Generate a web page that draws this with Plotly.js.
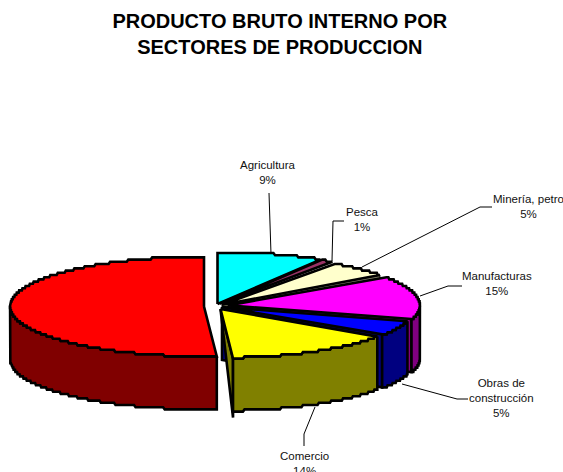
<!DOCTYPE html>
<html><head><meta charset="utf-8">
<script src="https://cdn.plot.ly/plotly-3.0.1.min.js"></script>
<style>html,body{margin:0;padding:0;background:#fff;overflow:hidden}</style>
</head><body><div id="chart" style="width:563px;height:472px"></div>
<script>
// Data
const categories = ["Agricultura","Pesca","Minería, petro","Manufacturas","Obras de<br>construcción","Comercio","Otros"];
const values = [8.5,1.1,5.3,14.8,4.8,14.4,51];
const topColors = ["#00FFFF","#993366","#FFFFCC","#FF00FF","#0000FF","#FFFF00","#FF0000"];
const sideColors = ["#007F7F","#4C1933","#8A8A70","#800080","#000080","#808000","#800000"];

// Drawing geometry (pie in 3D projection)
const W=563,H=472, cx=217.5, cy=305, rx=202, ry=52, depth=53, step=2.2;
const offsetX=[0,2.5,4.5,10.5,4.5,3,-13.5];
const offsetY=[-1,-1.2,-0.2,0.4,2,4,1.5];
const radiusScale=[1,0.98,0.97,0.95,0.96,0.94,0.96];
const labelPos=[[268,172],[362,219],[528,206],[497,283],[501,398],[304,463]];
const showLabel=[true,true,true,true,true,true,false];
const cutWall=[false,false,true,true,true,false,false];
const leaders=[
 [[269,193],[271,254]],
 [[344,221],[333,221],[332,261]],
 [[492,207],[480,207],[362,267]],
 [[462,286],[448,286],[420,296]],
 [[468,399],[457,399],[402,384]],
 [[304,446],[304,434],[315,407]]
];

const total=values.reduce((a,b)=>a+b,0);
const traces=[];
function poly(pts,color,lw){
  traces.push({type:"scatter",mode:"lines",x:pts.map(p=>p[0]),y:pts.map(p=>p[1]),
    fill:"toself",fillcolor:color,line:{color:"#000",width:lw===undefined?2.6:lw,shape:"linear"},
    hoverinfo:"skip",showlegend:false});
}
let acc=0;
const slices=values.map((v,i)=>{const s=acc/total*360;acc+=v;return {i,s,e:acc/total*360};});
slices.forEach(sl=>{
  const i=sl.i, rad=d=>d*Math.PI/180;
  const ox=cx+offsetX[i], oy=cy+offsetY[i];
  const a=rx*radiusScale[i], b=ry*radiusScale[i];
  const P=d=>[ox+a*Math.sin(rad(d)), Math.round((oy-b*Math.cos(rad(d)))/step)*step];
  const arc=(d0,d1)=>{const n=Math.max(2,Math.round(Math.abs(d1-d0)*2)),o=[];
    for(let k=0;k<=n;k++)o.push(P(d0+(d1-d0)*k/n));return o;};
  const apex=[ox,oy];
  const down=(p,d)=>[p[0],p[1]+d];
  if(cutWall[i]){
    const pe=P(sl.e);
    poly([pe,down(pe,depth),down(apex,depth),apex],sideColors[i],i===2?1:2.6);
  }
  if(i===5){
    const pe=P(sl.e);
    poly([apex,pe,down(pe,depth+6),apex],sideColors[i]);
  }
  const w0=Math.max(sl.s,90), w1=Math.min(sl.e,270);
  if(w1>w0){
    const top=arc(w0,w1), bot=top.map(p=>down(p,depth)).reverse();
    poly(top.concat(bot,[top[0]]),sideColors[i]);
  }
  poly([apex].concat(arc(sl.s,sl.e),[apex]),topColors[i]);
});

const annotations=[];
categories.forEach((c,i)=>{
  if(!showLabel[i])return;
  annotations.push({x:labelPos[i][0],y:labelPos[i][1],xref:"x",yref:"y",text:c+"<br>"+Math.round(values[i])+"%",
    showarrow:false,xanchor:"center",yanchor:"middle",align:"center",
    font:{family:"Liberation Sans, Arial, sans-serif",size:11.5,color:"#111"}});
});
const shapes=leaders.map(l=>({type:"path",xref:"x",yref:"y",
  path:"M"+l.map(p=>p[0]+","+p[1]).join(" L"),line:{color:"#000",width:1}}));

Plotly.newPlot("chart",traces,{
  width:W,height:H,margin:{l:0,r:0,t:0,b:0},paper_bgcolor:"#fff",plot_bgcolor:"#fff",showlegend:false,
  title:{text:"PRODUCTO BRUTO INTERNO POR<br>SECTORES DE PRODUCCION",x:0.497,xanchor:"center",y:0.941,yanchor:"top",
    font:{family:"Liberation Sans, Arial, sans-serif",size:20,color:"#000",weight:"bold"}},
  xaxis:{range:[0,W],visible:false,fixedrange:true},
  yaxis:{range:[H,0],visible:false,fixedrange:true},
  annotations,shapes
},{displayModeBar:false,staticPlot:true});
</script></body></html>
